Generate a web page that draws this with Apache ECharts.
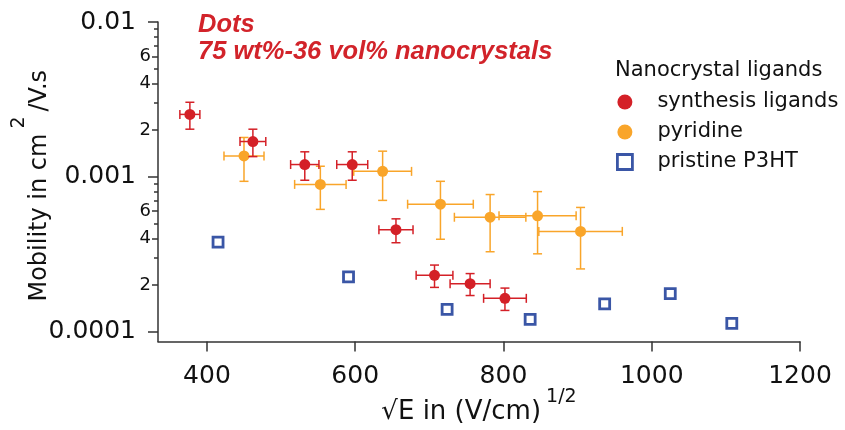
<!DOCTYPE html>
<html>
<head>
<meta charset="utf-8">
<script src="https://cdn.jsdelivr.net/npm/echarts@6/dist/echarts.min.js"></script>
<style>
html,body{margin:0;padding:0;background:#fff;}
#chart{width:845px;height:430px;}
</style>
</head>
<body>
<div id="chart"></div>
<script>
// ---- data ----
const synthX    = [377, 462, 532, 596, 655, 707, 755, 802];
const synthY    = [2.53e-3, 1.69e-3, 1.20e-3, 1.20e-3, 4.55e-4, 2.31e-4, 2.04e-4, 1.64e-4];
const synthXErr = [13.5, 17.4, 19.1, 20.9, 23, 24.8, 27, 28.8];
const synthYErr = [5.0e-4, 3.4e-4, 2.5e-4, 2.5e-4, 8.0e-5, 3.8e-5, 3.3e-5, 2.7e-5];

const pyrX    = [450, 553, 637, 715, 782, 846, 904];
const pyrY    = [1.365e-3, 8.93e-4, 1.084e-3, 6.65e-4, 5.48e-4, 5.60e-4, 4.44e-4];
const pyrXErr = [27, 34.7, 39, 44.3, 48.2, 52, 56.3];
const pyrYErr = [4.3e-4, 2.77e-4, 3.8e-4, 2.7e-4, 2.2e-4, 2.42e-4, 1.9e-4];

const p3htX = [415, 591, 724, 836, 936.5, 1025, 1108];
const p3htY = [3.78e-4, 2.26e-4, 1.39e-4, 1.20e-4, 1.51e-4, 1.76e-4, 1.13e-4];

const xTicks = [400, 600, 800, 1000, 1200];
const yMajorTicks = [0.0001, 0.001, 0.01];
const yMajorLabels = ['0.0001', '0.001', '0.01'];
const yMinorLabeledMult = [2, 4, 6];
const yMinorPlainMult = [3, 5, 7, 8, 9];
const seriesNames = ['synthesis ligands', 'pyridine', 'pristine P3HT'];
const legendTitle = 'Nanocrystal ligands';
const noteLines = ['Dots', '75 wt%-36 vol% nanocrystals'];

// ---- helpers ----
const lg = v => Math.log10(v);
const X_MIN = 334, X_MAX = 1200;
const Y_MIN = -4.064, Y_MAX = -2;
const RED = '#d42027', ORANGE = '#f9a52a', BLUE = '#3a56a6';
const TXT = '#111';
const FONT = 'DejaVu Sans';

const decades = [1e-4, 1e-3];
const majorVals = yMajorTicks.map(lg);
const minorLabeledVals = [];
const minorPlainVals = [];
decades.forEach(d => {
  yMinorLabeledMult.forEach(m => minorLabeledVals.push(lg(m * d)));
  yMinorPlainMult.forEach(m => minorPlainVals.push(lg(m * d)));
});

function pts(xs, ys) { return xs.map((x, i) => [x, lg(ys[i])]); }
function errData(xs, ys, xe, ye) {
  return xs.map((x, i) => [x, lg(ys[i]), x - xe[i], x + xe[i], lg(ys[i] + ye[i]), lg(ys[i] - ye[i])]);
}
function errRender(color) {
  return function (params, api) {
    const x = api.value(0), y = api.value(1);
    const c = api.coord([x, y]);
    const l = api.coord([api.value(2), y]);
    const r = api.coord([api.value(3), y]);
    const t = api.coord([x, api.value(4)]);
    const b = api.coord([x, api.value(5)]);
    const h = 4.5;
    const st = { stroke: color, lineWidth: 1.5, fill: null };
    const line = (x1, y1, x2, y2) => ({ type: 'line', shape: { x1, y1, x2, y2 }, style: st });
    return {
      type: 'group',
      children: [
        line(l[0], c[1], r[0], c[1]),
        line(l[0], c[1] - h, l[0], c[1] + h),
        line(r[0], c[1] - h, r[0], c[1] + h),
        line(c[0], t[1], c[0], b[1]),
        line(c[0] - h, t[1], c[0] + h, t[1]),
        line(c[0] - h, b[1], c[0] + h, b[1])
      ]
    };
  };
}

const axisLineStyle = { color: '#333', width: 1.5 };
const baseY = {
  type: 'value', position: 'left', min: Y_MIN, max: Y_MAX, offset: 0,
  splitLine: { show: false }, axisLine: { show: false }
};

const chart = echarts.init(document.getElementById('chart'), null, { renderer: 'canvas' });
chart.setOption({
  animation: false,
  backgroundColor: '#fff',
  title: [
    {
      text: noteLines.join('\n'), left: 198, top: 11, padding: 0,
      textStyle: { fontFamily: 'Liberation Sans', fontSize: 25.5, fontWeight: 'bold', fontStyle: 'italic', color: '#d2232a', lineHeight: 27 }
    },
    {
      text: legendTitle, left: 615, top: 60, padding: 0,
      textStyle: { fontFamily: FONT, fontSize: 21, fontWeight: 'normal', color: TXT, lineHeight: 22 }
    }
  ],
  legend: {
    data: [
      { name: seriesNames[0] },
      { name: seriesNames[1] },
      { name: seriesNames[2], itemStyle: { borderWidth: 2.8 } }
    ],
    orient: 'vertical', left: 616, top: 91, padding: 0,
    itemWidth: 15, itemHeight: 15, itemGap: 8, selectedMode: false,
    textStyle: { fontFamily: FONT, fontSize: 21, color: TXT, lineHeight: 22, padding: [0, 0, 0, 20] }
  },
  grid: { left: 158, right: 45, top: 22, bottom: 86 },
  xAxis: {
    type: 'value', min: X_MIN, max: X_MAX,
    splitLine: { show: false },
    axisLine: { show: true, lineStyle: axisLineStyle },
    axisTick: { show: true, inside: false, length: 10, customValues: xTicks, lineStyle: axisLineStyle },
    axisLabel: { customValues: xTicks, fontFamily: FONT, fontSize: 25, color: TXT, margin: 22, lineHeight: 25, formatter: v => String(v) },
    name: '{a|√E in (V/cm)}{s|1/2}',
    nameLocation: 'middle', nameGap: 46.5, nameMoveOverlap: false,
    nameTextStyle: {
      fontFamily: FONT, color: TXT,
      rich: {
        a: { fontFamily: FONT, fontSize: 26, color: TXT, verticalAlign: 'bottom' },
        s: { fontFamily: FONT, fontSize: 19, color: TXT, verticalAlign: 'top', padding: [0, 0, 18, 5] }
      }
    }
  },
  yAxis: [
    Object.assign({}, baseY, {
      axisLine: { show: true, lineStyle: axisLineStyle },
      axisTick: { show: true, inside: false, length: 10, customValues: majorVals, lineStyle: axisLineStyle },
      axisLabel: {
        customValues: majorVals, fontFamily: FONT, fontSize: 25, color: TXT, margin: 22, lineHeight: 25,
        formatter: v => yMajorLabels[majorVals.findIndex(m => Math.abs(m - v) < 1e-6)]
      },
      name: '{a|Mobility in cm}{s|2}{b|/V.s}',
      nameLocation: 'middle', nameGap: 106, nameRotate: 90, nameMoveOverlap: false,
      nameTextStyle: {
        fontFamily: FONT, color: TXT,
        rich: {
          a: { fontFamily: FONT, fontSize: 24, color: TXT, verticalAlign: 'bottom' },
          b: { fontFamily: FONT, fontSize: 24, color: TXT, verticalAlign: 'bottom', padding: [0, 8, 0, 0] },
          s: { fontFamily: FONT, fontSize: 19, color: TXT, verticalAlign: 'top', padding: [0, 5, 23, 5] }
        }
      }
    }),
    Object.assign({}, baseY, {
      axisTick: { show: true, inside: false, length: 6, customValues: minorLabeledVals, lineStyle: axisLineStyle },
      axisLabel: {
        customValues: minorLabeledVals, fontFamily: FONT, fontSize: 18, color: TXT, margin: 7, lineHeight: 18,
        formatter: v => String(Math.round(Math.pow(10, v - Math.floor(v + 1e-9))))
      }
    }),
    Object.assign({}, baseY, {
      axisTick: { show: true, inside: false, length: 4, customValues: minorPlainVals, lineStyle: axisLineStyle },
      axisLabel: { show: false }
    })
  ],
  series: [
    {
      type: 'custom', name: 'pyr-err', renderItem: errRender(ORANGE), silent: true, clip: false,
      data: errData(pyrX, pyrY, pyrXErr, pyrYErr), encode: { x: [0, 2, 3], y: [1, 4, 5] }, z: 2
    },
    {
      type: 'scatter', name: seriesNames[1], data: pts(pyrX, pyrY), symbol: 'circle', symbolSize: 11,
      itemStyle: { color: ORANGE, opacity: 1 }, z: 3
    },
    {
      type: 'custom', name: 'synth-err', renderItem: errRender(RED), silent: true, clip: false,
      data: errData(synthX, synthY, synthXErr, synthYErr), encode: { x: [0, 2, 3], y: [1, 4, 5] }, z: 4
    },
    {
      type: 'scatter', name: seriesNames[0], data: pts(synthX, synthY), symbol: 'circle', symbolSize: 11,
      itemStyle: { color: RED, opacity: 1 }, z: 5
    },
    {
      type: 'scatter', name: seriesNames[2], data: pts(p3htX, p3htY), symbol: 'rect', symbolSize: 10,
      itemStyle: { color: '#fff', borderColor: BLUE, borderWidth: 2.8, opacity: 1 }, z: 6
    }
  ]
});
</script>
</body>
</html>
